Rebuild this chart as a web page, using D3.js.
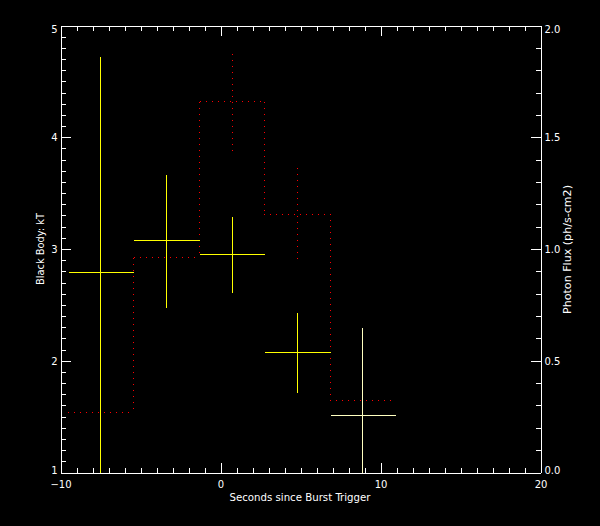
<!DOCTYPE html>
<html>
<head>
<meta charset="utf-8">
<script src="https://cdn.jsdelivr.net/npm/d3@7"></script>
<style>
html,body{margin:0;padding:0;background:#000;}
svg{display:block;}
text{font-family:"DejaVu Sans",sans-serif;fill:#fff;}
</style>
</head>
<body>
<script>
// ---- data ----
const binEdges = [-9.52, -5.45, -1.33, 2.75, 6.85, 10.96];   // seconds
const binCenters = [-7.5, -3.38, 0.73, 4.8, 8.9];
const kT = [2.79, 3.08, 2.95, 2.075, 1.51];
const kTHigh = [4.72, 3.67, 3.295, 2.43, 2.30];
const kTLow = [0.8, 2.48, 2.61, 1.72, 0.8];
const flux = [0.27, 0.963, 1.662, 1.155, 0.323];
const fluxHigh = [null, null, 1.872, 1.366, null];
const fluxLow = [null, null, 1.44, 0.936, null];
const xTicksMajor = [-10, 0, 10, 20];
const xTickLabels = ["\u221210", "0", "10", "20"];
const yLeftTicks = [1, 2, 3, 4, 5];
const yLeftLabels = ["1", "2", "3", "4", "5"];
const yRightTicks = [0, 0.5, 1.0, 1.5, 2.0];
const yRightLabels = ["0.0", "0.5", "1.0", "1.5", "2.0"];

const W = 600, H = 526;
const L = 60.5, R = 540.5, T = 25.5, B = 472.5;

const svg = d3.select("body").append("svg").attr("width", W).attr("height", H)
  .style("background", "#000");
svg.append("rect").attr("width", W).attr("height", H).attr("fill", "#000");

const x = d3.scaleLinear().domain([-10, 20]).range([L, R]);
const yL = d3.scaleLinear().domain([1, 5]).range([B, T]);
const yR = d3.scaleLinear().domain([0, 2]).range([B, T]);
const px = v => Math.floor(x(v)) + 0.5;
const pyL = v => Math.floor(yL(v)) + 0.5;
const ix = v => Math.floor(x(v));
const iyR = v => Math.floor(yR(v));

svg.append("clipPath").attr("id", "clip").append("rect")
  .attr("x", L - 1).attr("y", T - 1).attr("width", R - L + 2).attr("height", B - T + 2.5);

const plot = svg.append("g").attr("clip-path", "url(#clip)");

// ---- step function (photon flux, dotted red) ----
const segs = [];
flux.forEach((f, i) => {
  segs.push({x1: ix(binEdges[i]), y1: iyR(f), x2: ix(binEdges[i + 1]), y2: iyR(f)});
  if (i < flux.length - 1) {
    segs.push({x1: ix(binEdges[i + 1]), y1: iyR(f), x2: ix(binEdges[i + 1]), y2: iyR(flux[i + 1])});
  }
  if (fluxHigh[i] != null) {
    segs.push({x1: ix(binCenters[i]), y1: iyR(fluxHigh[i]), x2: ix(binCenters[i]), y2: iyR(fluxLow[i])});
  }
});
const dots = [];
segs.forEach(s => {
  if (s.y1 === s.y2) {
    const a = Math.min(s.x1, s.x2), b = Math.max(s.x1, s.x2);
    for (let v = a + (a % 2); v <= b; v += 6) dots.push({x: v, y: s.y1});
  } else {
    const a = Math.min(s.y1, s.y2), b = Math.max(s.y1, s.y2);
    for (let v = a + (a % 2); v <= b; v += 6) dots.push({x: s.x1, y: v});
  }
});
plot.selectAll("rect.dot").data(dots).join("rect")
  .attr("class", "dot")
  .attr("x", d => d.x).attr("y", d => d.y)
  .attr("width", 1).attr("height", 1)
  .attr("fill", "#ff0000")
  .attr("shape-rendering", "crispEdges");

// ---- kT crosses (yellow) ----
const crossColor = (d, i) => i === 4 ? "#ffffc0" : "#ffff00";
const idx = d3.range(kT.length);
plot.selectAll("line.h").data(idx).join("line")
  .attr("class", "h")
  .attr("x1", i => px(binEdges[i])).attr("x2", i => px(binEdges[i + 1]))
  .attr("y1", i => pyL(kT[i])).attr("y2", i => pyL(kT[i]))
  .attr("stroke", crossColor).attr("stroke-width", 1).attr("shape-rendering", "crispEdges");
plot.selectAll("line.v").data(idx).join("line")
  .attr("class", "v")
  .attr("x1", i => px(binCenters[i])).attr("x2", i => px(binCenters[i]))
  .attr("y1", i => pyL(kTHigh[i])).attr("y2", i => pyL(kTLow[i]))
  .attr("stroke", crossColor).attr("stroke-width", 1).attr("shape-rendering", "crispEdges");

// ---- axes ----
function style(g) {
  g.selectAll("path,line").attr("stroke", "#fff").attr("stroke-width", 1).attr("shape-rendering", "crispEdges");
  g.selectAll("text").attr("fill", "#fff").style("font-size", "10px").style("font-family", "DejaVu Sans, sans-serif");
}
const xMinor = d3.range(-10, 20.01, 1);
const yLMinor = d3.range(1, 5.001, 0.1);
const yRMinor = d3.range(0, 2.001, 0.1);

// bottom
svg.append("g").attr("transform", `translate(0,${B})`)
  .call(d3.axisBottom(x).tickValues(xMinor).tickSize(-5).tickSizeOuter(0).tickFormat(""))
  .call(style);
svg.append("g").attr("transform", `translate(0,${B})`)
  .call(d3.axisBottom(x).tickValues(xTicksMajor).tickSize(-10).tickSizeOuter(0).tickPadding(8)
    .tickFormat((d, i) => xTickLabels[i]))
  .call(style);
// top
svg.append("g").attr("transform", `translate(0,${T})`)
  .call(d3.axisTop(x).tickValues(xMinor).tickSize(-5).tickSizeOuter(0).tickFormat(""))
  .call(style);
svg.append("g").attr("transform", `translate(0,${T})`)
  .call(d3.axisTop(x).tickValues(xTicksMajor).tickSize(-10).tickSizeOuter(0).tickFormat(""))
  .call(style);
// left
svg.append("g").attr("transform", `translate(${L},0)`)
  .call(d3.axisLeft(yL).tickValues(yLMinor).tickSize(-5).tickSizeOuter(0).tickFormat(""))
  .call(style);
const gl = svg.append("g").attr("transform", `translate(${L},0)`)
  .call(d3.axisLeft(yL).tickValues(yLeftTicks).tickSize(-10).tickSizeOuter(0).tickPadding(3)
    .tickFormat((d, i) => yLeftLabels[i]))
  .call(style);
gl.selectAll("text").attr("dy", d => d === 5 ? "0.72em" : (d === 1 ? "0.08em" : "0.36em"));
// right
svg.append("g").attr("transform", `translate(${R},0)`)
  .call(d3.axisRight(yR).tickValues(yRMinor).tickSize(-5).tickSizeOuter(0).tickFormat(""))
  .call(style);
const gr = svg.append("g").attr("transform", `translate(${R},0)`)
  .call(d3.axisRight(yR).tickValues(yRightTicks).tickSize(-10).tickSizeOuter(0).tickPadding(4)
    .tickFormat((d, i) => yRightLabels[i]))
  .call(style);
gr.selectAll("text").attr("dy", d => d === 2 ? "0.72em" : (d === 0 ? "0.08em" : "0.36em"));

// ---- titles ----
svg.append("text").attr("x", 300).attr("y", 500.5).attr("text-anchor", "middle")
  .style("font-size", "10px").attr("textLength", 141).attr("lengthAdjust", "spacingAndGlyphs")
  .text("Seconds since Burst Trigger");
svg.append("text").attr("transform", "translate(43.5,249) rotate(-90)").attr("text-anchor", "middle")
  .style("font-size", "10px").attr("textLength", 72).attr("lengthAdjust", "spacingAndGlyphs")
  .text("Black Body: kT");
svg.append("text").attr("transform", "translate(571,249.5) rotate(-90)").attr("text-anchor", "middle")
  .style("font-size", "10px").attr("textLength", 129).attr("lengthAdjust", "spacingAndGlyphs")
  .text("Photon Flux (ph/s-cm2)");
</script>
</body>
</html>
